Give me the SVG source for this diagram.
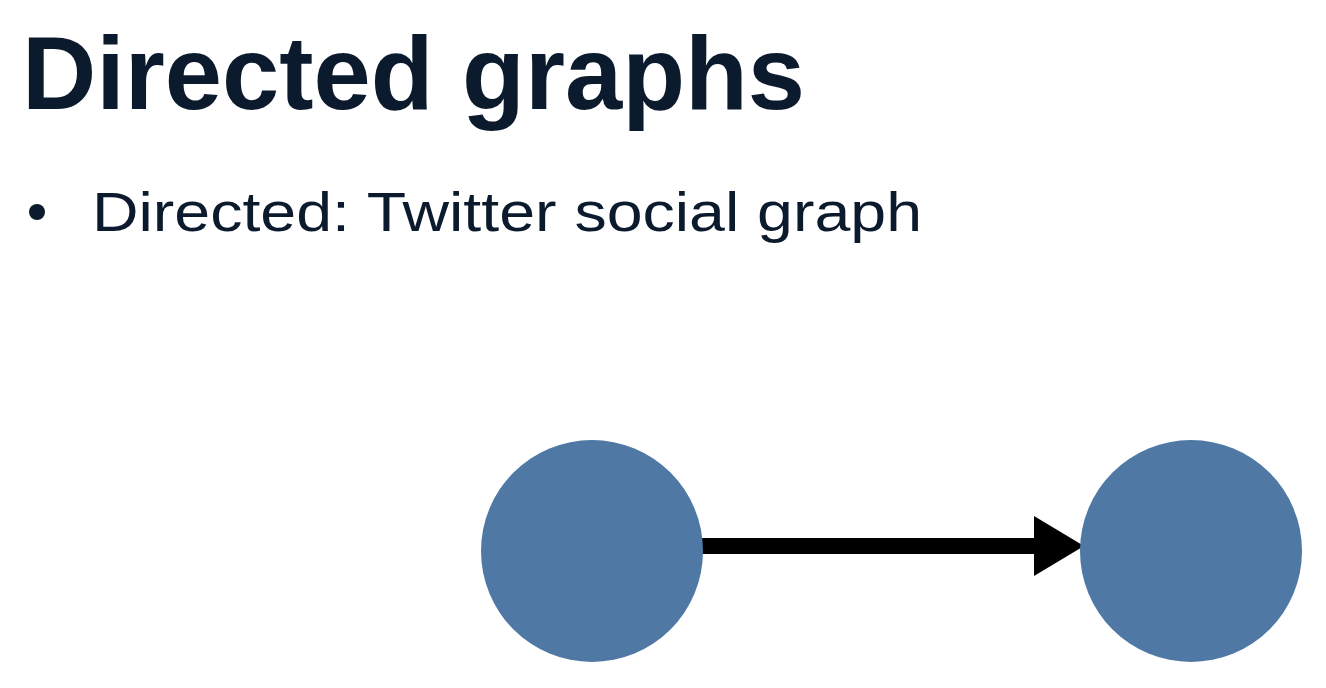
<svg xmlns="http://www.w3.org/2000/svg" width="1326" height="688" viewBox="0 0 1326 688">
  <style>
    .title { font-family: "Liberation Sans", Arial, sans-serif; font-weight: bold; fill: #0c1a2d; }
    .body { font-family: "Liberation Sans", Arial, sans-serif; fill: #0c1a2d; }
    .node { fill: #4f79a4; }
    .edge { stroke: #000000; stroke-width: 16; fill: none; }
  </style>
  <defs>
    <marker id="arrow" markerUnits="userSpaceOnUse" markerWidth="50" markerHeight="60" refX="0" refY="30" orient="auto" overflow="visible">
      <path d="M0,0 L50,30 L0,60 Z" fill="#000000"/>
    </marker>
  </defs>
  <rect width="1326" height="688" fill="#ffffff"/>
  <text class="title" x="22" y="109" font-size="104" textLength="783" lengthAdjust="spacingAndGlyphs">Directed graphs</text>
  <circle cx="37" cy="212" r="8" fill="#0c1a2d"/>
  <text class="body" x="92" y="231" font-size="55" textLength="830" lengthAdjust="spacingAndGlyphs">Directed: Twitter social graph</text>
  <g id="connectors">
    <line class="edge" x1="700" y1="546" x2="1034" y2="546" marker-end="url(#arrow)"/>
  </g>
  <g id="node-a">
    <circle class="node" cx="592" cy="551" r="111"/>
  </g>
  <g id="node-b">
    <circle class="node" cx="1191" cy="551" r="111"/>
  </g>
</svg>
